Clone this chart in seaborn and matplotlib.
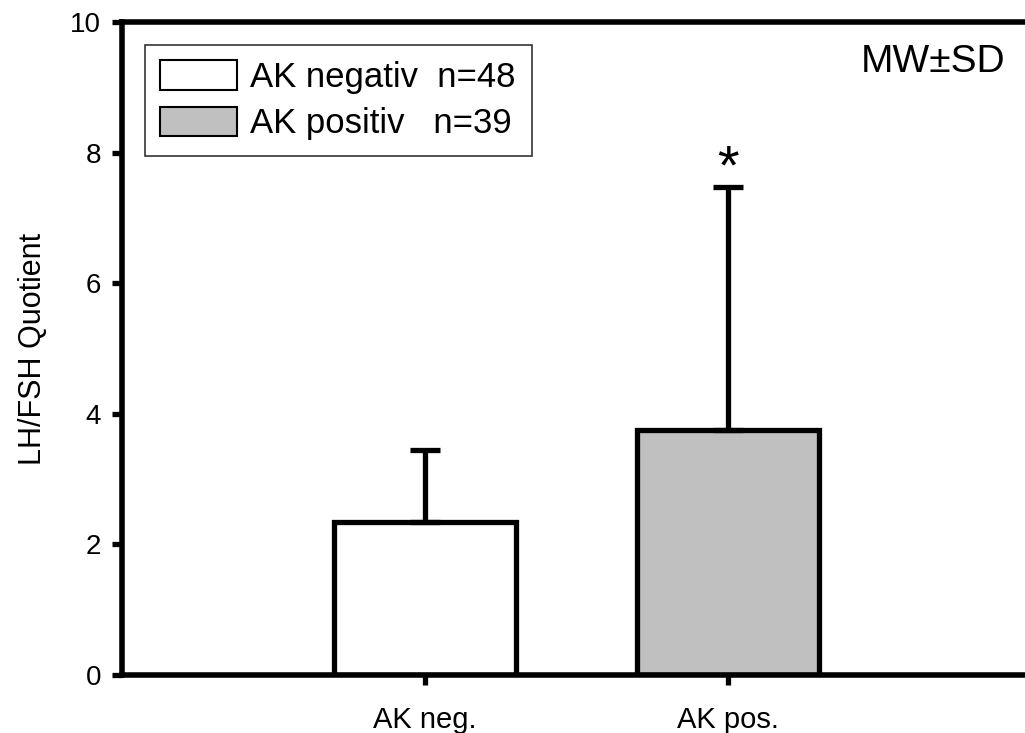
import matplotlib
matplotlib.use("Agg")
import matplotlib.pyplot as plt
import seaborn as sns
import pandas as pd
from matplotlib.patches import Patch

groups = ["AK neg.", "AK pos."]
means = [2.35, 3.75]
sds = [1.1, 3.72]
legend_labels = ["AK negativ  n=48", "AK positiv   n=39"]
colors = ["white", "#c0c0c0"]

sns.set_style("white")
plt.rcParams["font.family"] = ["Liberation Sans", "DejaVu Sans"]
plt.rcParams["text.color"] = "black"
plt.rcParams["axes.labelcolor"] = "black"
plt.rcParams["xtick.color"] = "black"
plt.rcParams["ytick.color"] = "black"

df = pd.DataFrame({"group": groups, "mean": means})

fig = plt.figure(figsize=(10.25, 7.33), dpi=100)
ax = fig.add_axes([0.119, 0.079, 0.881, 0.891])

sns.barplot(data=df, x="group", y="mean", hue="group", palette=colors,
            width=0.6, edgecolor="black", linewidth=3.8, legend=False, ax=ax)
ax.errorbar(range(len(groups)), means, yerr=[[0, 0], sds], fmt="none",
            ecolor="black", elinewidth=3.8, capsize=11, capthick=3.8, zorder=1)

ax.set_xlim(-1, 1.98)
ax.set_ylim(0, 10)
ax.set_yticks([0, 2, 4, 6, 8, 10])
ax.set_xlabel("")
ax.set_ylabel("LH/FSH Quotient", fontsize=22, labelpad=16)
ax.tick_params(axis="both", direction="out", length=7, width=3.8,
               labelsize=20, pad=8, left=True, bottom=True)
ax.tick_params(axis="x", labelsize=21, pad=15)

for side in ["left", "bottom", "top"]:
    ax.spines[side].set_linewidth(4)
    ax.spines[side].set_color("black")
ax.spines["right"].set_visible(False)

handles = [Patch(facecolor=c, edgecolor="black", linewidth=1.5) for c in colors]
leg = ax.legend(handles, legend_labels, loc="upper left", fontsize=25,
                frameon=True, fancybox=False, edgecolor="black",
                bbox_to_anchor=(0.025, 0.965), borderaxespad=0,
                handlelength=2.2, handleheight=0.95, handletextpad=0.4,
                labelspacing=0.35, borderpad=0.45)
leg.get_frame().set_linewidth(1.2)

ax.text(0.978, 0.966, "MW\u00b1SD", transform=ax.transAxes, ha="right",
        va="top", fontsize=28)
ax.text(1, means[1] + sds[1] - 0.12, "*", ha="center", va="bottom",
        fontsize=40)

plt.savefig("out.png", dpi=100)
